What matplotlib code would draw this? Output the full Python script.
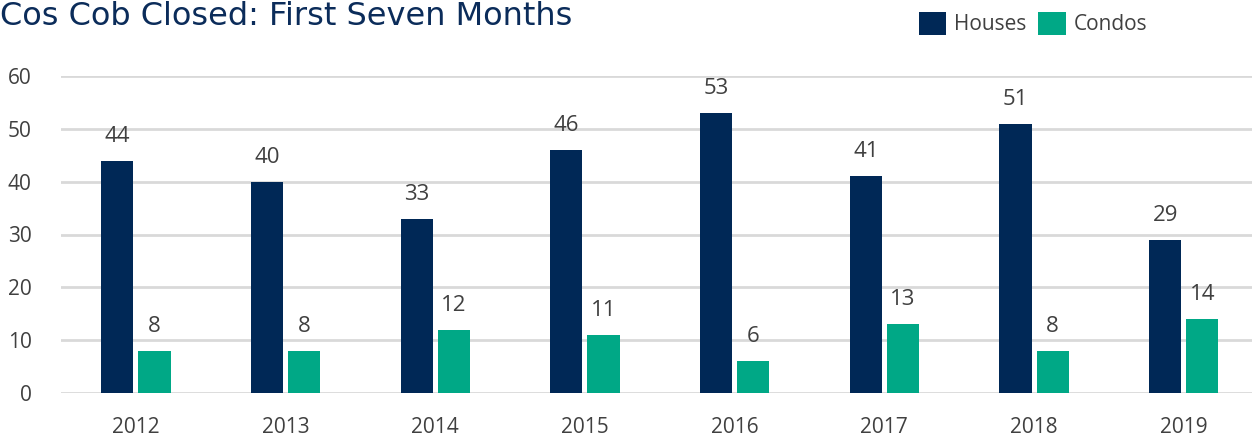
import matplotlib
matplotlib.use("Agg")
import matplotlib.pyplot as plt
import numpy as np

years = ["2012", "2013", "2014", "2015", "2016", "2017", "2018", "2019"]
houses = [44, 40, 33, 46, 53, 41, 51, 29]
condos = [8, 8, 12, 11, 6, 13, 8, 14]

NAVY = "#002856"
GREEN = "#00A886"
TXT = "#404040"
GRID = "#D9D9D9"
FONT = "Open Sans"

W, H = 1252, 437
fig = plt.figure(figsize=(W / 100, H / 100), dpi=100)
left = 61 / W
bottom = (H - 393) / H
top = (H - 76) / H
ax = fig.add_axes([left, bottom, 1 - left, top - bottom])

x = np.arange(len(years))
bw = 0.215
off = 0.124
b1 = ax.bar(x - off, houses, bw, color=NAVY, label="Houses", zorder=3)
b2 = ax.bar(x + off, condos, bw, color=GREEN, label="Condos", zorder=3)

for bars in (b1, b2):
    for r in bars:
        ax.annotate(f"{int(r.get_height())}", (r.get_x() + r.get_width() / 2, r.get_height()),
                    xytext=(0, 10), textcoords="offset points", ha="center", va="bottom",
                    fontsize=16, color=TXT, family=FONT)

ax.set_xlim(-0.5, 7.456)
ax.set_ylim(0, 60)
ax.set_yticks(range(0, 61, 10))
ax.set_xticks(x)
ax.set_xticklabels(years)
ax.yaxis.grid(True, color=GRID, linewidth=2, zorder=0)
ax.set_axisbelow(True)
for s in ax.spines.values():
    s.set_visible(False)
ax.tick_params(axis="both", length=0, labelsize=15, labelcolor=TXT)
for lab in ax.get_xticklabels() + ax.get_yticklabels():
    lab.set_family(FONT)
ax.tick_params(axis="x", pad=17)
ax.tick_params(axis="y", pad=21)

fig.text(0, 1 - 25 / H, "Cos Cob Closed: First Seven Months", fontsize=23,
         color="#0B2C5A", ha="left", va="baseline")

leg = fig.legend(handles=[b1, b2], labels=["Houses", "Condos"], loc="upper left",
                 bbox_to_anchor=(919 / W, 1 - 12 / H), ncol=2, frameon=False,
                 prop={"family": FONT, "size": 15}, handlelength=1.3, handleheight=1.3,
                 handletextpad=0.38, columnspacing=0.58, borderaxespad=0, borderpad=0)
for t in leg.get_texts():
    t.set_color(TXT)

fig.savefig("out.png", dpi=100)
